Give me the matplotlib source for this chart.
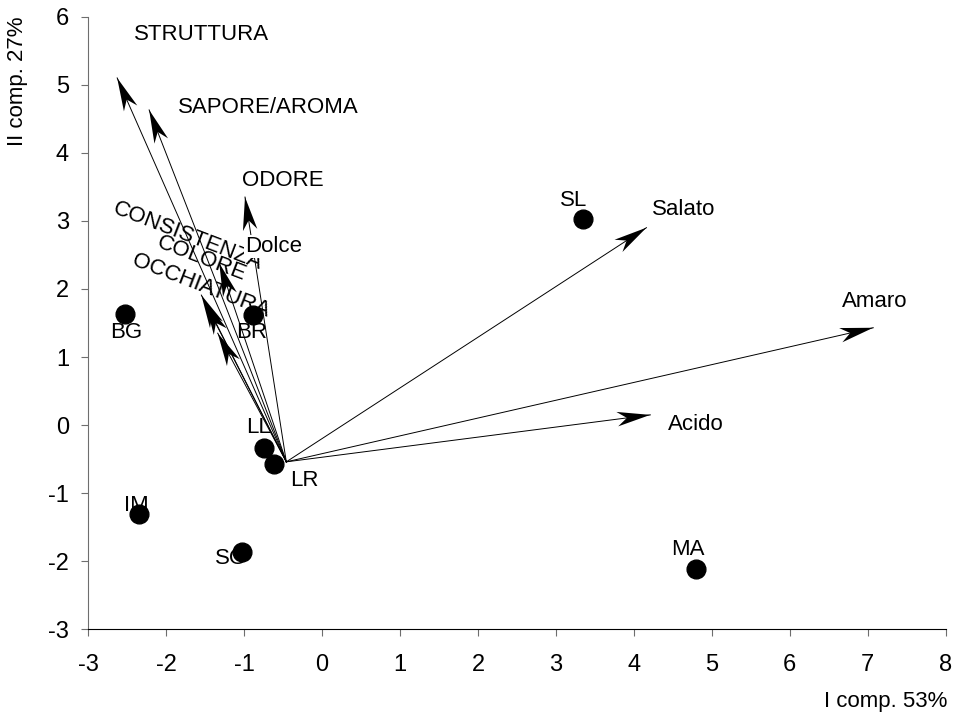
import numpy as np
import matplotlib
matplotlib.use('Agg')
import matplotlib.pyplot as plt
from matplotlib.patches import Polygon
from matplotlib.transforms import Affine2D, ScaledTranslation

# objects (samples) on the first two components
obj_names = ['BG', 'BR', 'LL', 'LR', 'IM', 'SG', 'SL', 'MA']
obj_x = [-2.53, -0.89, -0.75, -0.62, -2.35, -1.03, 3.35, 4.80]
obj_y = [1.63, 1.62, -0.34, -0.57, -1.31, -1.86, 3.03, -2.11]

# variables drawn as arrows from a common origin
var_names = ['STRUTTURA', 'SAPORE/AROMA', 'ODORE', 'Dolce', 'CONSISTENZA',
             'COLORE', 'OCCHIATURA', 'Salato', 'Amaro', 'Acido']
var_x = [-2.63, -2.22, -0.99, -1.32, -1.55, -1.50, -1.34, 4.16, 7.07, 4.21]
var_y = [5.10, 4.63, 3.35, 2.38, 1.91, 1.81, 1.35, 2.90, 1.43, 0.15]
origin_x, origin_y = -0.46, -0.54

xticks = list(range(-3, 9))
yticks = list(range(-3, 7))

# label placement, offsets in points from the mark
obj_off = {'BG': (1, -13), 'BR': (-1, -13), 'LL': (-4, 15), 'LR': (22, -12),
           'IM': (-2, 6), 'SG': (-8, -5), 'SL': (-7, 13), 'MA': (-6, 14)}
var_off = {'STRUTTURA': (61, 31), 'SAPORE/AROMA': (86, 2), 'ODORE': (27, 12),
           'Dolce': (39, 12), 'Salato': (27, 13), 'Amaro': (1, 19),
           'Acido': (33, -7)}
rot_off = {'CONSISTENZA': (-63, 63), 'COLORE': (-34, 43),
           'OCCHIATURA': (-61, 53)}

plt.rcParams['font.family'] = ['Liberation Sans', 'DejaVu Sans']
plt.rcParams['axes.unicode_minus'] = False
fs = 16

fig = plt.figure(figsize=(9.58, 7.16), dpi=100)
ax = fig.add_axes([0.0922, 0.1211, 0.895, 0.8556])
ax.set_xlim(-3, 8)
ax.set_ylim(-3, 6)
ax.set_xticks(xticks)
ax.set_yticks(yticks)
for s in ['top', 'right']:
    ax.spines[s].set_visible(False)
ax.spines['left'].set_color('#6e6e6e')
ax.spines['bottom'].set_color('black')
ax.tick_params(direction='out', length=5, width=0.8, color='#6e6e6e',
               labelsize=17)
ax.tick_params(axis='x', pad=13)
ax.tick_params(axis='y', pad=9)


def stealth(x0, y0, x1, y1, hl=24, hw=10.5, notch=17):
    p0 = ax.transData.transform((x0, y0))
    p1 = ax.transData.transform((x1, y1))
    ang = np.arctan2(p1[1] - p0[1], p1[0] - p0[0])
    head = np.array([[0, 0], [-hl, hw / 2], [-notch, 0], [-hl, -hw / 2]])
    tr = (Affine2D().scale(fig.dpi / 72.).rotate(ang)
          + ScaledTranslation(x1, y1, ax.transData))
    ax.add_patch(Polygon(head, closed=True, transform=tr, fc='black',
                         ec='none', zorder=3))


for name, vx, vy in zip(var_names, var_x, var_y):
    ax.plot([origin_x, vx], [origin_y, vy], color='black', lw=0.7, zorder=2)
    stealth(origin_x, origin_y, vx, vy)
    if name in rot_off:
        ax.annotate(name, (vx, vy), xytext=rot_off[name],
                    textcoords='offset points', ha='left', va='center',
                    rotation=-21, rotation_mode='anchor', fontsize=fs,
                    zorder=4)
    else:
        bb = None
        if name == 'Dolce':
            bb = dict(fc='white', ec='none', pad=0.5)
        ax.annotate(name, (vx, vy), xytext=var_off[name],
                    textcoords='offset points', ha='center', va='center',
                    fontsize=fs, bbox=bb, zorder=5)

ax.plot(obj_x, obj_y, 'o', color='black', ms=13.5, zorder=6)
for name, ox, oy in zip(obj_names, obj_x, obj_y):
    ax.annotate(name, (ox, oy), xytext=obj_off[name],
                textcoords='offset points', ha='center', va='center',
                fontsize=fs, zorder=5)

fig.text(18 / 958, 1 - 17 / 716, 'II comp. 27%', rotation=90, ha='center',
         va='top', fontsize=fs)
fig.text(947 / 958, 1 - 702 / 716, 'I comp. 53%', ha='right', va='center',
         fontsize=fs)

fig.savefig('out.png', dpi=100)
